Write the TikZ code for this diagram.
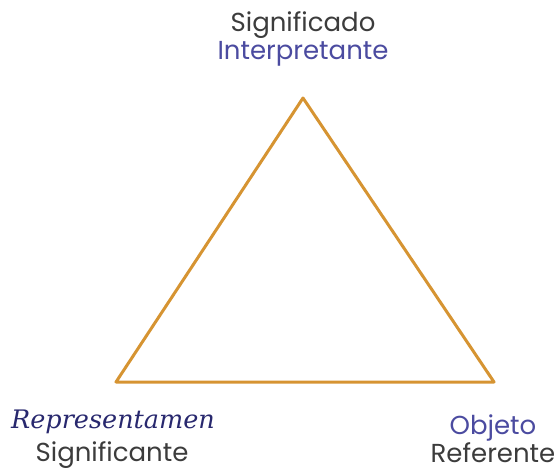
\documentclass[tikz,border=0pt]{standalone}
\usepackage{fontspec}
\setmainfont{Poppins}
\newfontfamily\serifit{DejaVu Serif}
\usepackage[dvipsnames]{xcolor}
\definecolor{tri}{RGB}{214,148,50}
\definecolor{lblue}{RGB}{75,75,160}
\definecolor{dblue}{RGB}{40,40,110}
\definecolor{lgray}{RGB}{60,60,60}

\begin{document}
\begin{tikzpicture}[x=1pt,y=-1pt,-,thick,
    label node/.style={inner sep=0pt,anchor=base,font=\fontsize{26}{29}\selectfont,text=lgray},
    blue node/.style={label node,text=lblue}]

            \useasboundingbox (0,0) rectangle (560,473);

            \coordinate (1) at (303,98);
            \coordinate (2) at (116,382);
            \coordinate (3) at (494,382);

            \node[label node] (sig) at (303,32) {Significado};
            \node[blue node] (int) at (303,60) {Interpretante};
            \node[blue node, text=dblue, font=\serifit\itshape\fontsize{25.5}{29}\selectfont] (rep) at (113,428) {Representamen};
            \node[label node] (sgn) at (112,461) {Significante};
            \node[blue node] (obj) at (493,434) {Objeto};
            \node[label node] (ref) at (493,462) {Referente};

            % triangle
            \draw[tri, line width=3pt, line join=round] (1) to (2) to (3) -- cycle;

            ;
        \end{tikzpicture}
\end{document}
